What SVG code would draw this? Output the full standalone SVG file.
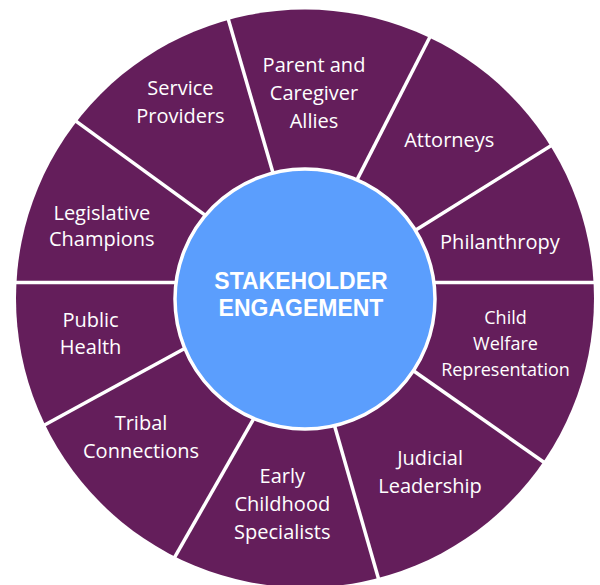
<svg xmlns="http://www.w3.org/2000/svg" width="600" height="585" viewBox="0 0 600 585">
<style>
.lbl{font-family:"Open Sans","Noto Sans","Liberation Sans",sans-serif;font-size:20px;fill:#ffffff;text-anchor:middle}
.sm{font-size:18px}
.ctr{font-family:"Liberation Sans",Arial,sans-serif;font-weight:bold;font-size:23px;fill:#ffffff;text-anchor:middle}
.div{stroke:#ffffff;stroke-width:3.5;fill:none}
</style>
<rect width="600" height="585" fill="#ffffff"/>
<g id="ring">
<circle cx="305" cy="298.5" r="289" fill="#641E5B"/>
</g>
<g id="dividers" class="div">
<line x1="273.9" y1="176" x2="226.4" y2="12.8"/>
<line x1="355.7" y1="182.4" x2="432.3" y2="32.2"/>
<line x1="413.8" y1="231.2" x2="554.9" y2="143.3"/>
<line x1="432" y1="282.5" x2="600" y2="282.5"/>
<line x1="0" y1="282.5" x2="178" y2="282.5"/>
<line x1="206.8" y1="216.4" x2="71.8" y2="118.1"/>
<line x1="186" y1="347.7" x2="40" y2="427.5"/>
<line x1="255.6" y1="415.3" x2="173.6" y2="559.2"/>
<line x1="333.4" y1="421.7" x2="379.8" y2="583.2"/>
<line x1="412" y1="369.7" x2="547.1" y2="464.5"/>
</g>
<g id="seg-service-providers">
<text class="lbl" x="180.4" y="95">Service</text>
<text class="lbl" x="180.4" y="122.6">Providers</text>
</g>
<g id="seg-parent-caregiver">
<text class="lbl" x="314" y="72.4">Parent and</text>
<text class="lbl" x="314" y="100">Caregiver</text>
<text class="lbl" x="314" y="127.6">Allies</text>
</g>
<g id="seg-attorneys">
<text class="lbl" x="449.3" y="147.2">Attorneys</text>
</g>
<g id="seg-philanthropy">
<text class="lbl" x="499.9" y="248.8">Philanthropy</text>
</g>
<g id="seg-child-welfare">
<text class="lbl sm" x="505.5" y="324.2">Child</text>
<text class="lbl sm" x="505.5" y="349.8">Welfare</text>
<text class="lbl sm" x="505.5" y="375.7">Representation</text>
</g>
<g id="seg-judicial">
<text class="lbl" x="430.1" y="465.4">Judicial</text>
<text class="lbl" x="430.1" y="492.7">Leadership</text>
</g>
<g id="seg-early-childhood">
<text class="lbl" x="282.3" y="483.4">Early</text>
<text class="lbl" x="282.3" y="510.9">Childhood</text>
<text class="lbl" x="282.3" y="538.5">Specialists</text>
</g>
<g id="seg-tribal">
<text class="lbl" x="141" y="430.2">Tribal</text>
<text class="lbl" x="141" y="457.8">Connections</text>
</g>
<g id="seg-public-health">
<text class="lbl" x="90.6" y="326.5">Public</text>
<text class="lbl" x="90.6" y="353.8">Health</text>
</g>
<g id="seg-legislative">
<text class="lbl" x="101.8" y="219.6">Legislative</text>
<text class="lbl" x="101.8" y="246.2">Champions</text>
</g>
<g id="center">
<circle cx="305" cy="299" r="130" fill="#5B9EFD" stroke="#ffffff" stroke-width="3.5"/>
<text class="ctr" x="301" y="289">STAKEHOLDER</text>
<text class="ctr" x="301" y="315.7">ENGAGEMENT</text>
</g>
</svg>
